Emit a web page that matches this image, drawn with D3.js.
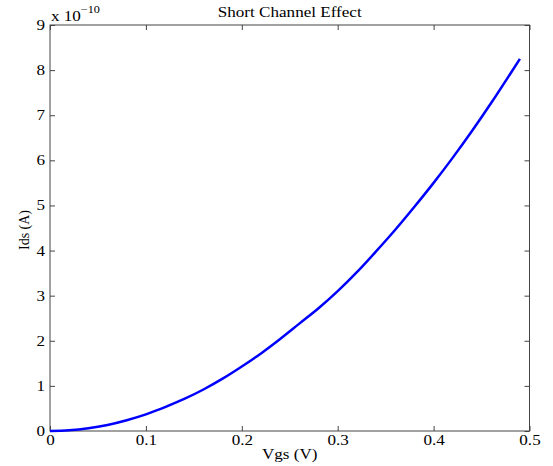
<!DOCTYPE html>
<html><head><meta charset="utf-8">
<script src="https://cdn.jsdelivr.net/npm/d3@7"></script>
<style>body{margin:0;background:#fff}svg{display:block}text{font-family:"Liberation Serif","Times New Roman",serif;fill:#000}</style>
</head><body>
<svg id="c" width="553" height="466"></svg>
<script>
const vgs = [0,0.02,0.04,0.06,0.08,0.10,0.12,0.14,0.16,0.18,0.20,0.22,0.24,0.26,0.28,0.30,0.32,0.34,0.36,0.38,0.40,0.42,0.44,0.46,0.48,0.49];
const ids = [0,0.015,0.06,0.135,0.24,0.37,0.53,0.71,0.92,1.16,1.43,1.72,2.04,2.38,2.72,3.10,3.52,3.98,4.46,4.97,5.50,6.06,6.65,7.27,7.92,8.25];
const xTicks = [0,0.1,0.2,0.3,0.4,0.5];
const yTicks = [0,1,2,3,4,5,6,7,8,9];
const title = "Short Channel Effect", xLabel = "Vgs (V)", yLabel = "Ids (A)";

const svg = d3.select("#c");
const L=50,R=529.5,T=25,B=431;
const x = d3.scaleLinear().domain([0,0.5]).range([L,R]);
const y = d3.scaleLinear().domain([0,9]).range([B,T]);
const tl = 5;
const axCol = "#444";
const FF = '"Liberation Serif","Times New Roman",serif';

svg.append("rect").attr("x",L).attr("y",T).attr("width",R-L).attr("height",B-T)
  .attr("fill","none").attr("stroke",axCol).attr("stroke-width",1);

const fmt = d => d===0?"0":d3.format("")(d);
const gb = svg.append("g").attr("transform",`translate(0,${B})`)
  .call(d3.axisBottom(x).tickValues(xTicks).tickSize(-tl).tickSizeOuter(0).tickPadding(4).tickFormat(fmt));
const gt = svg.append("g").attr("transform",`translate(0,${T})`)
  .call(d3.axisTop(x).tickValues(xTicks).tickSize(-tl).tickSizeOuter(0).tickFormat(""));
const gl = svg.append("g").attr("transform",`translate(${L},0)`)
  .call(d3.axisLeft(y).tickValues(yTicks).tickSize(-tl).tickSizeOuter(0).tickPadding(5).tickFormat(d3.format("d")));
const gr = svg.append("g").attr("transform",`translate(${R},0)`)
  .call(d3.axisRight(y).tickValues(yTicks).tickSize(-tl).tickSizeOuter(0).tickFormat(""));
[gb,gt,gl,gr].forEach(g=>{
  g.attr("font-family",FF).attr("font-size",14);
  g.select(".domain").remove();
  g.selectAll("line").attr("stroke",axCol);
  g.selectAll("text").attr("fill","#000");
});
gb.selectAll("text").attr("dy","0.71em");

const pts = vgs.map((v,i)=>[v,ids[i]]);
svg.append("path").datum(pts)
  .attr("d", d3.line().x(d=>x(d[0])).y(d=>y(d[1])).curve(d3.curveMonotoneX))
  .attr("fill","none").attr("stroke","#0000ff").attr("stroke-width",2.5);

svg.append("text").attr("class","st").attr("x",(L+R)/2).attr("y",16.5).attr("text-anchor","middle")
  .style("font-size","14px").text(title);
svg.append("text").attr("class","st").attr("x",(L+R)/2).attr("y",459).attr("text-anchor","middle")
  .style("font-size","14px").text(xLabel);
svg.append("text").attr("transform",`translate(29,${(T+B)/2+2}) rotate(-90)`).attr("text-anchor","middle")
  .style("font-size","14px").text(yLabel);
const ex = svg.append("text").attr("class","st").attr("x",51).attr("y",21).style("font-size","14px");
ex.append("tspan").text("x 10");
ex.append("tspan").attr("dy",-8).style("font-size","10px").text("\u221210");

// horizontal stretch of the reference's glyphs
const S = 1.22;
svg.selectAll("g text, text.st").each(function(){
  const w = this.getComputedTextLength();
  if (w>0) d3.select(this).attr("textLength", w*S).attr("lengthAdjust","spacingAndGlyphs");
});
</script>
</body></html>
